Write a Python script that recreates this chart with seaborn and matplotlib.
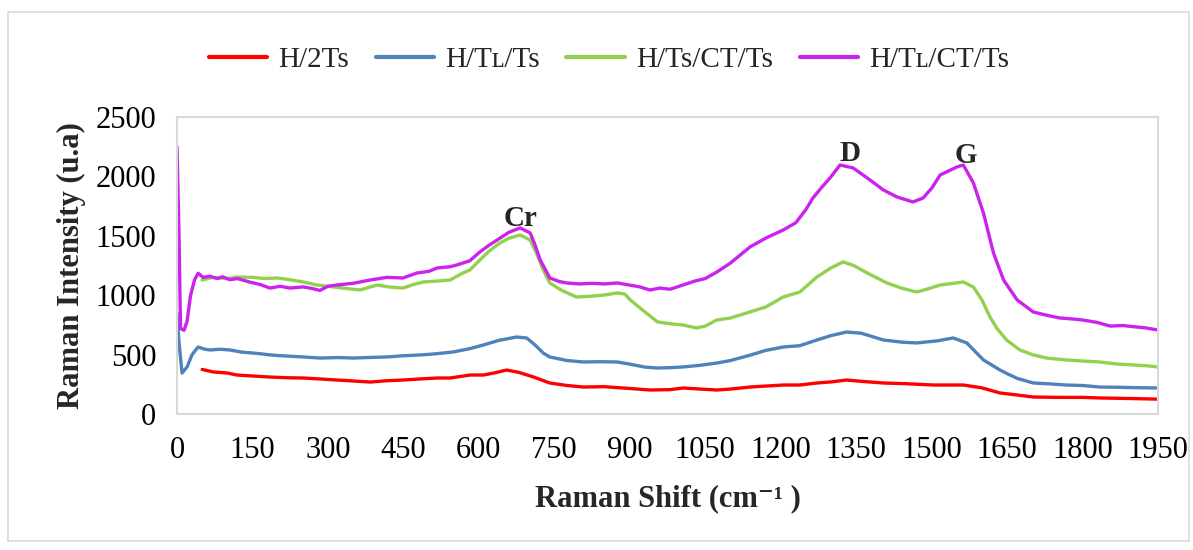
import numpy as np
import pandas as pd
import seaborn as sns
import matplotlib
matplotlib.use("Agg")
import matplotlib.pyplot as plt
from matplotlib.patches import Rectangle

# ---------------- data ----------------
series_names = ["H/2Ts", "H/Tʟ/Ts", "H/Ts/CT/Ts", "H/Tʟ/CT/Ts"]
series_colors = ["#ff0000", "#4f81bd", "#92d050", "#cc22ee"]

red_x = [50, 72, 100, 119, 150, 185, 220, 251, 284, 318, 350, 384, 417, 449, 483, 517, 543,
         582, 609, 630, 655, 680, 709, 741, 775, 808, 850, 875, 900, 940, 980, 1006, 1040,
         1073, 1100, 1139, 1170, 1205, 1238, 1272, 1300, 1331, 1360, 1404, 1450, 1503, 1563,
         1600, 1636, 1670, 1702, 1750, 1800, 1834, 1900, 1950]
red_y = [375, 354, 345, 328, 320, 311, 305, 303, 295, 286, 278, 269, 280, 286, 295, 303, 303,
         328, 328, 345, 370, 350, 311, 261, 240, 227, 230, 222, 215, 202, 205, 219, 210,
         202, 210, 227, 235, 244, 244, 261, 270, 286, 275, 261, 255, 244, 244,
         220, 177, 160, 143, 140, 140, 135, 130, 125]

blue_x = [0, 4, 10, 20, 30, 42, 55, 66, 85, 105, 130, 151, 170, 185, 210, 251, 284, 320, 350,
          384, 417, 449, 483, 510, 549, 582, 609, 640, 675, 695, 712, 728, 741, 775, 808, 840,
          875, 900, 930, 955, 980, 1006, 1040, 1073, 1100, 1139, 1170, 1205, 1238, 1272, 1300,
          1331, 1360, 1404, 1440, 1470, 1510, 1543, 1570, 1603, 1636, 1650, 1670, 1702, 1740,
          1768, 1800, 1834, 1870, 1901, 1950]
blue_y = [850, 600, 345, 396, 500, 564, 545, 539, 545, 539, 520, 513, 505, 497, 490, 480, 471,
          475, 471, 476, 480, 490, 497, 505, 522, 550, 581, 620, 648, 640, 580, 513, 480, 450,
          438, 440, 438, 420, 395, 387, 390, 396, 410, 429, 450, 495, 535, 564, 575, 623, 660,
          690, 680, 623, 605, 598, 615, 640, 598, 455, 370, 340, 300, 261, 252, 244, 240, 227,
          225, 222, 219]

green_x = [50, 72, 100, 119, 151, 175, 199, 225, 251, 278, 300, 330, 364, 398, 420, 449, 470,
           489, 520, 543, 565, 582, 602, 620, 642, 660, 682, 702, 715, 728, 741, 765, 794, 820,
           850, 875, 890, 901, 930, 955, 980, 1006, 1033, 1050, 1073, 1100, 1139, 1170, 1205,
           1238, 1272, 1300, 1324, 1345, 1372, 1411, 1440, 1470, 1490, 1517, 1563, 1583, 1600,
           1616, 1630, 1649, 1675, 1702, 1730, 1768, 1800, 1834, 1870, 1901, 1930, 1950]
green_y = [1128, 1150, 1140, 1153, 1150, 1140, 1145, 1130, 1111, 1086, 1075, 1060, 1044, 1086,
           1070, 1060, 1090, 1111, 1120, 1128, 1180, 1212, 1296, 1370, 1440, 1480, 1507, 1465,
           1350, 1212, 1103, 1040, 985, 990, 1002, 1019, 1010, 960, 860, 775, 760, 749, 724,
           740, 791, 808, 859, 900, 985, 1027, 1153, 1230, 1280, 1250, 1187, 1103, 1060, 1027,
           1050, 1086, 1111, 1069, 960, 817, 720, 623, 540, 497, 470, 455, 446, 438, 420, 413,
           405, 396]

mag_x = [0, 4, 7, 14, 20, 27, 35, 42, 52, 65, 80, 91, 105, 120, 145, 165, 185, 205, 225, 251,
         270, 284, 300, 318, 350, 384, 417, 449, 477, 500, 517, 543, 556, 582, 602, 620, 642,
         660, 682, 702, 712, 722, 741, 760, 775, 800, 825, 850, 875, 900, 920, 940, 960, 980,
         1006, 1030, 1050, 1073, 1100, 1120, 1139, 1170, 1205, 1230, 1250, 1264, 1280, 1298,
         1318, 1344, 1372, 1404, 1431, 1463, 1483, 1500, 1517, 1550, 1563, 1583, 1603, 1623,
         1643, 1670, 1702, 1730, 1755, 1780, 1801, 1830, 1855, 1880, 1901, 1925, 1950]
mag_y = [2250, 1500, 720, 705, 780, 1000, 1130, 1185, 1150, 1160, 1140, 1155, 1130, 1140, 1110,
         1090, 1060, 1075, 1060, 1070, 1055, 1040, 1075, 1086, 1100, 1128, 1150, 1145, 1187,
         1200, 1229, 1240, 1254, 1290, 1364, 1420, 1480, 1530, 1566, 1524, 1420, 1296, 1145,
         1115, 1103, 1095, 1100, 1095, 1103, 1085, 1070, 1044, 1060, 1050, 1086, 1120, 1140,
         1195, 1270, 1340, 1406, 1480, 1549, 1610, 1720, 1818, 1900, 1987, 2096, 2071, 1987,
         1886, 1827, 1785, 1818, 1900, 2012, 2079, 2096, 1945, 1692, 1355, 1128, 960, 859, 830,
         808, 800, 791, 770, 740, 745, 735, 725, 707]

peak_labels = ["Cr", "D", "G"]
peak_x = [683, 1338, 1569]
peak_y = [1530, 2075, 2060]

x_ticks = list(range(0, 1951, 150))
y_ticks = list(range(0, 2501, 500))

# ---------------- build long-form table ----------------
frames = []
for name, xs, ys in zip(series_names,
                        [red_x, blue_x, green_x, mag_x],
                        [red_y, blue_y, green_y, mag_y]):
    frames.append(pd.DataFrame({"shift": xs, "intensity": ys, "series": name}))
df = pd.concat(frames, ignore_index=True)

# ---------------- figure ----------------
sns.set_theme(style="white")
serif = ["Liberation Serif", "DejaVu Serif"]
plt.rcParams["font.family"] = serif

W, H = 1193, 550
fig = plt.figure(figsize=(W / 100, H / 100), dpi=100)
fig.patch.set_facecolor("white")
ax = fig.add_axes([177 / W, 1 - 414 / H, (1158 - 177) / W, (414 - 117) / H])

sns.lineplot(data=df, x="shift", y="intensity", hue="series", hue_order=series_names,
             palette=series_colors, estimator=None, sort=False, linewidth=2.4, ax=ax)

ax.set_xlim(0, 1950)
ax.set_ylim(0, 2500)
ax.set_xticks(x_ticks)
ax.set_yticks(y_ticks)
ax.tick_params(axis="both", length=0, labelsize=22, colors="black")
ax.tick_params(axis="x", pad=16)
ax.tick_params(axis="y", pad=15)
for lab in ax.get_xticklabels() + ax.get_yticklabels():
    lab.set_family(serif)

for sp in ax.spines.values():
    sp.set_color("#d9d9d9")
    sp.set_linewidth(1.5)

ax.set_xlabel("Raman Shift (cm⁻¹ )", fontsize=22, fontweight="bold", family=serif, labelpad=14)
ax.set_ylabel("Raman Intensity (u.a)", fontsize=22, fontweight="bold", family=serif, labelpad=7)

for t, px, py in zip(peak_labels, peak_x, peak_y):
    ax.text(px, py, t, ha="center", va="bottom", fontsize=21, fontweight="bold", family=serif)

handles, labels = ax.get_legend_handles_labels()
if ax.legend_:
    ax.legend_.remove()
leg = fig.legend(handles, labels, loc="center", bbox_to_anchor=(609 / W, 1 - 60 / H), ncol=4,
                 frameon=False, handlelength=2.0, handletextpad=0.4,
                 columnspacing=0.9, prop={"family": serif, "size": 21})
for lh in leg.get_lines():
    lh.set_linewidth(3)

# outer chart border
fig.patches.append(Rectangle((8 / W, 1 - 541 / H), (1189 - 8) / W, (541 - 12) / H,
                             transform=fig.transFigure, fill=False, edgecolor="#d9d9d9",
                             linewidth=1.2))

fig.savefig("out.png", dpi=100, facecolor="white")
